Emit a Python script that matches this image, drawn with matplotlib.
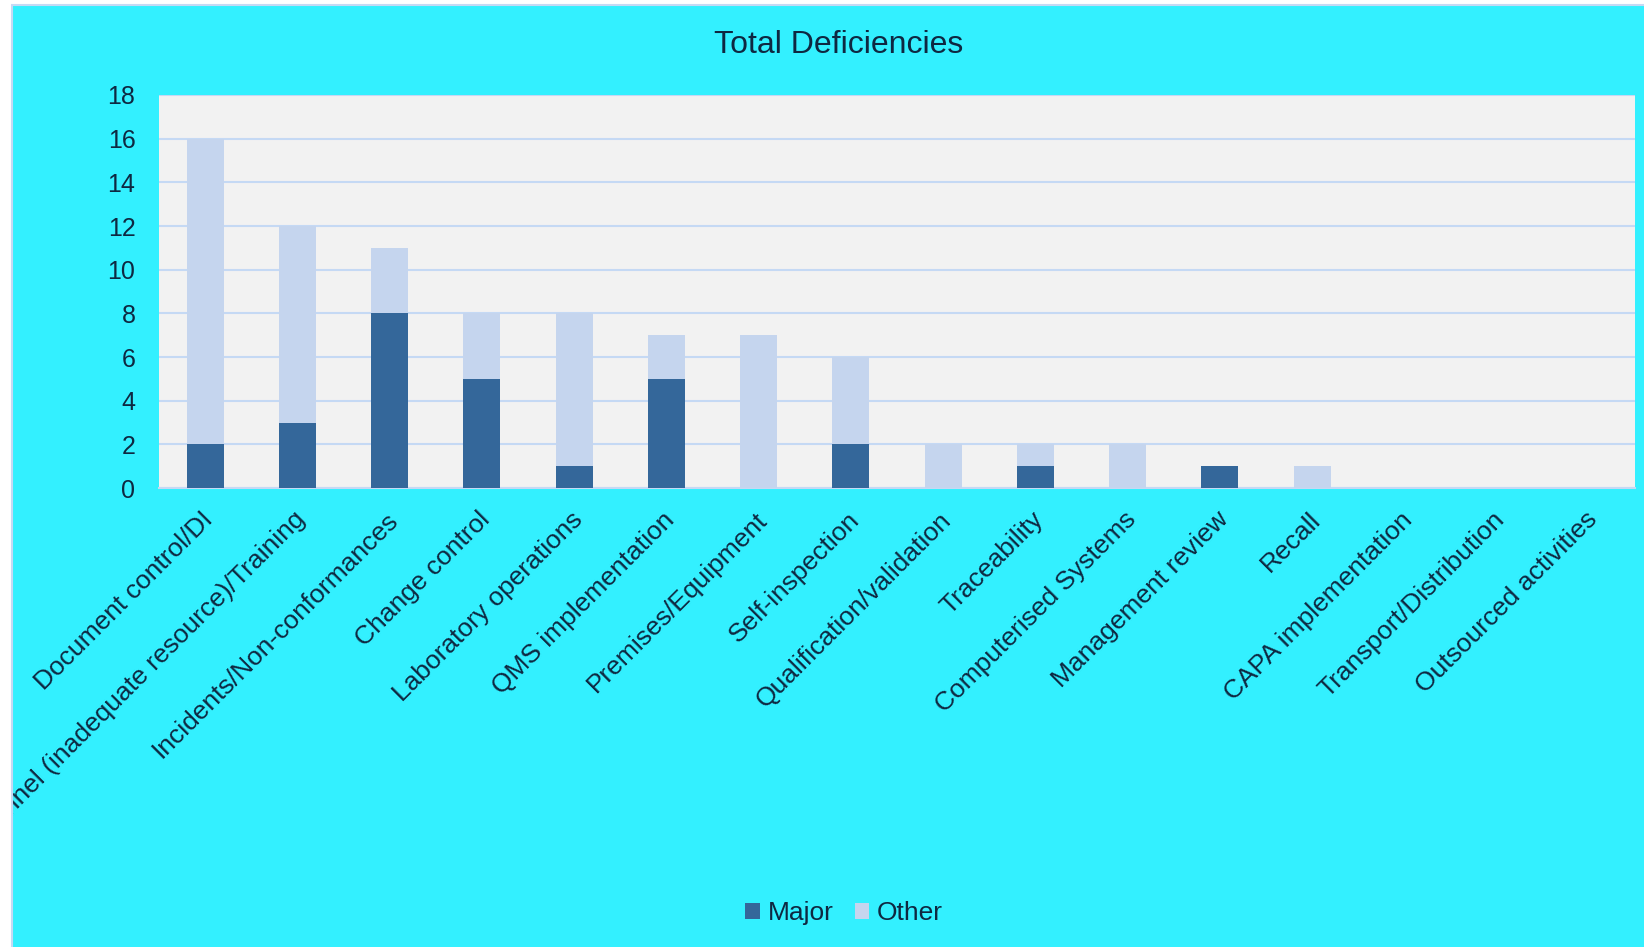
import matplotlib.pyplot as plt
import matplotlib.transforms as mtransforms
import numpy as np
from matplotlib.patches import Rectangle

categories = [
    "Document control/DI",
    "Personnel (inadequate resource)/Training",
    "Incidents/Non-conformances",
    "Change control",
    "Laboratory operations",
    "QMS implementation",
    "Premises/Equipment",
    "Self-inspection",
    "Qualification/validation",
    "Traceability",
    "Computerised Systems",
    "Management review",
    "Recall",
    "CAPA implementation",
    "Transport/Distribution",
    "Outsourced activities",
]
major = [2, 3, 8, 5, 1, 5, 0, 2, 0, 1, 0, 1, 0, 0, 0, 0]
other = [14, 9, 3, 3, 7, 2, 7, 4, 2, 1, 2, 0, 1, 0, 0, 0]
yticks = [0, 2, 4, 6, 8, 10, 12, 14, 16, 18]


def main() -> None:
    # config
    plt.rcParams["font.family"] = ["Liberation Sans", "DejaVu Sans"]
    bg = "#33F0FF"
    plot_bg = "#F2F2F2"
    grid_c = "#C5D9F4"
    c_major = "#34679A"
    c_other = "#C5D5EE"
    txt = "#0E2841"
    W, H = 1644, 947

    fig = plt.figure(figsize=(16.44, 9.47), dpi=100)
    fig.set_facecolor("white")
    x0, y1 = 12 / W, 1 - 5 / H
    fig.patches.append(Rectangle((x0, 0), 1 - x0, y1, transform=fig.transFigure,
                                 facecolor=bg, edgecolor="none", zorder=-10))
    # white margins on top of everything (clips the long first label like the original)
    fig.patches.append(Rectangle((0, 0), x0, 1, transform=fig.transFigure,
                                 facecolor="white", edgecolor="none", zorder=5))
    fig.patches.append(Rectangle((0, y1), 1, 1 - y1, transform=fig.transFigure,
                                 facecolor="white", edgecolor="none", zorder=5))
    fig.patches.append(Rectangle((x0, -0.01), 1.01 - x0, y1 + 0.01, transform=fig.transFigure,
                                 facecolor="none", edgecolor=grid_c, linewidth=1.5, zorder=6))

    ax = fig.add_axes([159 / W, 1 - 488 / H, (1635 - 159) / W, (488 - 95) / H])
    ax.set_zorder(1)
    ax.set_facecolor(plot_bg)

    # plot
    x = np.arange(len(categories))
    ax.bar(x, major, width=0.4, color=c_major, label="Major", zorder=3)
    ax.bar(x, other, width=0.4, bottom=major, color=c_other, label="Other", zorder=3)

    # arrange
    ax.set_xlim(-0.5, len(categories) - 0.5)
    ax.set_ylim(0, 18)
    ax.set_yticks(yticks)
    ax.yaxis.grid(True, color=grid_c, linewidth=1.5, zorder=0)
    ax.set_axisbelow(True)
    for s in ["top", "right", "left"]:
        ax.spines[s].set_visible(False)
    ax.spines["bottom"].set_color(grid_c)
    ax.spines["bottom"].set_linewidth(1.5)
    ax.tick_params(axis="y", length=0, pad=17, labelsize=18, labelcolor=txt)
    ax.tick_params(axis="x", length=0, pad=14)
    ax.set_xticks(x)
    ax.set_xticklabels(categories, rotation=45, ha="right", va="top",
                       rotation_mode="anchor", fontsize=19, color=txt)
    shift = mtransforms.ScaledTranslation(-4 / 100, 0, fig.dpi_scale_trans)
    for lab in ax.get_xticklabels():
        lab.set_transform(lab.get_transform() + shift)

    fig.text(0.510, 1 - 45 / H, "Total Deficiencies", ha="center", va="center",
             fontsize=23, color=txt)
    fig.legend(loc="center", bbox_to_anchor=(0.5135, 1 - 913 / H), ncol=2,
               frameon=False, fontsize=19, labelcolor=txt, handlelength=0.55,
               handleheight=0.55, handletextpad=0.3, columnspacing=0.8)

    # output
    fig.savefig("out.png", dpi=100, facecolor=fig.get_facecolor())
    plt.close(fig)


if __name__ == "__main__":
    main()
